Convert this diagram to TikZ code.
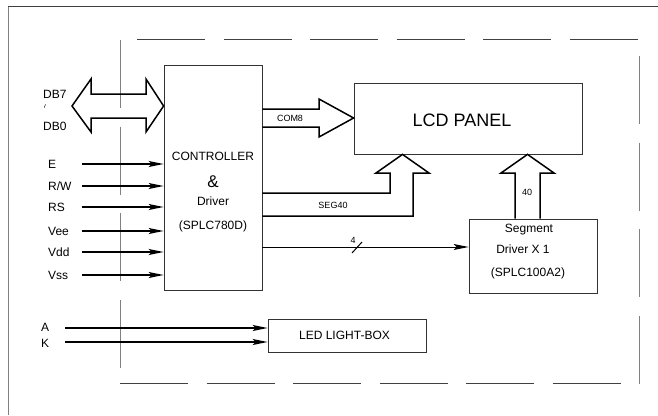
\documentclass[tikz,border=0pt]{standalone}
\usepackage{fontspec}
\setmainfont{Liberation Sans}
\usetikzlibrary{arrows.meta,calc}

\begin{document}
\begin{tikzpicture}[x=1pt,y=-1pt,
  box/.style={draw=black!80,line width=0.8pt,inner sep=0pt},
  txt/.style={font=\fontsize{12}{14}\selectfont,inner sep=0pt},
  tiny/.style={font=\fontsize{9}{10}\selectfont,inner sep=0pt},
  pin/.style={line width=1.5pt,-{Stealth[length=15pt,width=6pt,inset=3pt]}},
  bus/.style={line width=1.5pt,line join=miter}]
  \useasboundingbox (0,0) rectangle (658,415);
  % Outer frame and dashed module outline
  \draw[black!50,line width=1pt] (8,415) -- (8,6);
  \draw[black!75,line width=1pt] (8,6) -- (658,6);
  \draw[black!75,line width=1pt,dash pattern=on 68pt off 18.5pt] (137,39) -- (640,39);
  \draw[black!75,line width=1pt,dash pattern=on 68pt off 18.5pt] (120,383) -- (623,383);
  \draw[black!50,line width=1pt,dash pattern=on 68pt off 18.6pt] (120,40) -- (120,370);
  \draw[black!50,line width=1pt,dash pattern=on 68pt off 18.5pt] (639,56) -- (639,385);

  % Blocks
  \node[box,minimum width=98pt,minimum height=225pt] (ctrl) at (213,177.5) {};
  \node[box,minimum width=228pt,minimum height=71pt] (lcd) at (468,118.5) {};
  \node[box,minimum width=128pt,minimum height=74pt] (seg) at (533,256) {};
  \node[box,minimum width=158pt,minimum height=33pt] (led) at (347,335.5) {};

  % Block texts
  \node[txt] (c1) at (213,156) {CONTROLLER};
  \node[txt,font=\fontsize{17}{18}\selectfont] (c2) at (213,182) {\&};
  \node[txt] (c3) at (213,201) {Driver};
  \node[txt] (c4) at (213,226) {(SPLC780D)};
  \node[txt,font=\fontsize{18}{20}\selectfont] (l1) at (462,120) {LCD PANEL};
  \node[txt] (s1) at (529,230) {Segment};
  \node[txt] (s2) at (523,249) {Driver X 1};
  \node[txt] (s3) at (528,273) {(SPLC100A2)};
  \node[txt] (b1) at (344.5,335.5) {LED LIGHT-BOX};

  % Data bus
  \node[txt,anchor=west] (db7) at (43,94) {DB7};
  \node[txt,rotate=75,font=\fontsize{8}{8}\selectfont] (tl) at (46,107) {\textasciitilde};
  \node[txt,anchor=west] (db0) at (43,126) {DB0};
  \draw[bus] (72,106) -- (91,79) -- (91,94) -- (146,94) -- (146,79) -- (ctrl.west |- 0,106)
    -- (146,132) -- (146,118) -- (91,118) -- (91,132) -- cycle;

  % Control and power inputs
  \foreach \nm/\lab/\yy in {e/E/164,rw/R{/}W/186,rs/RS/207,vee/Vee/231,vdd/Vdd/252,vss/Vss/275}{
    \node[txt,anchor=west] (n\nm) at (48,\yy) {\lab};
    \coordinate (p\nm) at (82,\yy);
    \draw[pin] (p\nm) -- (p\nm -| ctrl.west);
  }

  % COM8 bus
  \draw[bus] (ctrl.east |- 0,109) -- (319,109) -- (319,99) -- (lcd.west |- 0,118)
    -- (319,137) -- (319,127) -- (ctrl.east |- 0,127);
  \node[tiny] (com) at (290,118) {COM8};

  % SEG40 bus
  \draw[bus] (ctrl.east |- 0,193) -- (390,193) -- (390,173) -- (376,173) -- (402.5,0 |- lcd.south)
    -- (429,173) -- (413,173) -- (413,216) -- (ctrl.east |- 0,216);
  \node[tiny] (sg) at (333,205) {SEG40};

  % Segment driver to panel
  \draw[bus] (515,0 |- seg.north) -- (515,173) -- (501,173) -- (527.5,0 |- lcd.south)
    -- (554,173) -- (540,173) -- (540,0 |- seg.north);
  \node[tiny] (n40) at (527,192) {40};

  % 4-bit link
  \draw[line width=1pt,-{Stealth[length=15pt,width=6pt,inset=3pt]}] (ctrl.east |- 0,247) -- (seg.west |- 0,247);
  \draw[line width=1pt] (352,253) -- (362,242);
  \node[tiny] (n4) at (353,240) {4};

  % Backlight
  \node[txt,anchor=west] (na) at (41,327) {A};
  \node[txt,anchor=west] (nk) at (41,343) {K};
  \coordinate (pa) at (65,328);
  \coordinate (pk) at (65,342);
  \draw[pin] (pa) -- (pa -| led.west);
  \draw[pin] (pk) -- (pk -| led.west);
\end{tikzpicture}
\end{document}
